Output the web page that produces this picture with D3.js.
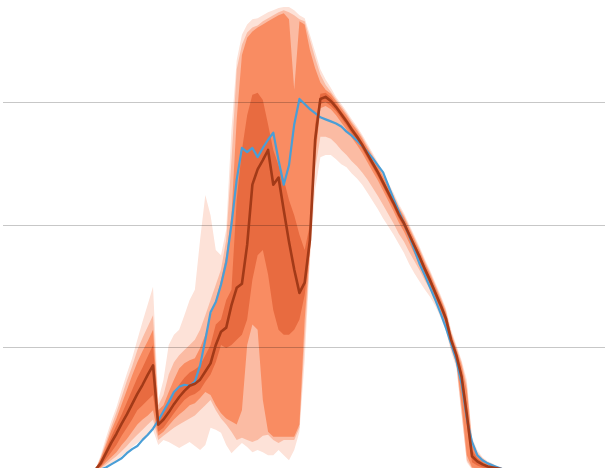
<!DOCTYPE html>
<html>
<head>
<meta charset="utf-8">
<script src="https://cdn.jsdelivr.net/npm/d3@7"></script>
<style>
  html, body { margin: 0; padding: 0; background: #fff; }
  svg { display: block; }
</style>
</head>
<body>
<div id="chart"></div>
<script>
// one point per step, 0..78
var steps = d3.range(0, 79);

var gridValues = [120, 240, 360];

// median forecast (dark line)
var median = [0, 6, 16, 26, 35, 45, 54, 64, 74, 83, 93, 102, 44, 49, 56, 64, 71, 77, 82, 84,
  88, 96, 104, 122, 135, 139, 161, 178, 182, 220, 279, 294, 303, 313, 279, 286, 254, 223, 196, 173,
  183, 225, 323, 363, 365, 361, 355, 348, 341, 333, 326, 318, 309, 300, 291, 281, 271, 261, 250, 241,
  230, 219, 208, 196, 185, 173, 161, 148, 127, 112, 91, 54, 13, 8, 5, 3, 2, 1, 0];

// observed (blue line)
var observed = [0, 0, 2, 5, 8, 11, 16, 20, 23, 29, 34, 40, 48, 57, 66, 76, 81, 83, 82, 86,
  102, 127, 154, 164, 181, 203, 240, 284, 315, 311, 315, 306, 315, 323, 330, 303, 279, 298, 338, 363,
  358, 353, 349, 345, 343, 341, 339, 336, 331, 327, 322, 317, 311, 305, 298, 291, 278, 265, 253, 241,
  229, 215, 201, 190, 178, 166, 153, 139, 123, 107, 84, 50, 27, 14, 9, 6, 4, 2, 0];

// quantile bands
var q05 = [0, 0, 3, 6, 9, 13, 17, 22, 26, 30, 35, 39, 24, 29, 27, 24, 21, 24, 27, 23,
  19, 24, 41, 39, 36, 24, 16, 21, 26, 22, 17, 19, 17, 14, 14, 19, 14, 9, 19, 37,
  107, 205, 274, 306, 308, 308, 304, 299, 296, 290, 285, 279, 271, 263, 255, 246, 238, 230, 221, 212,
  201, 192, 184, 176, 169, 160, 149, 136, 115, 100, 53, 7, 0, 0, 0, 0, 0, 0, 0];
var q95 = [0, 14, 31, 47, 61, 78, 94, 109, 127, 145, 162, 179, 68, 88, 122, 132, 137, 151, 166, 176,
  225, 269, 249, 215, 210, 235, 333, 401, 426, 436, 441, 442, 445, 448, 450, 452, 453, 453, 450, 445,
  442, 426, 409, 392, 382, 374, 365, 358, 351, 343, 336, 328, 319, 310, 301, 291, 281, 271, 260, 251,
  240, 229, 218, 206, 195, 183, 171, 158, 137, 122, 107, 88, 31, 19, 12, 8, 6, 2, 0];
var q10 = [0, 1, 5, 9, 13, 18, 23, 29, 34, 39, 44, 49, 29, 33, 37, 41, 44, 47, 50, 53,
  58, 63, 68, 58, 50, 44, 37, 29, 31, 29, 27, 29, 33, 34, 29, 26, 29, 29, 29, 41,
  127, 210, 294, 326, 326, 324, 319, 313, 308, 302, 297, 291, 284, 276, 268, 259, 250, 241, 231, 223,
  213, 204, 195, 185, 176, 164, 152, 139, 118, 103, 56, 9, 1, 0, 0, 0, 0, 0, 0];
var q90 = [0, 12, 27, 42, 56, 71, 87, 101, 117, 129, 140, 151, 63, 73, 93, 105, 112, 117, 122, 127,
  137, 151, 166, 181, 196, 225, 303, 392, 416, 428, 433, 435, 439, 442, 445, 448, 450, 448, 445, 441,
  439, 421, 403, 387, 377, 370, 363, 356, 349, 341, 334, 326, 317, 308, 299, 289, 279, 269, 258, 249,
  238, 227, 216, 204, 193, 181, 169, 156, 135, 120, 105, 83, 29, 17, 11, 7, 5, 2, 0];
var q25 = [0, 2, 7, 12, 17, 24, 30, 37, 44, 49, 53, 58, 33, 37, 43, 49, 54, 58, 63, 65,
  70, 76, 73, 63, 55, 50, 47, 44, 58, 122, 142, 137, 68, 37, 32, 32, 32, 32, 32, 44,
  147, 215, 303, 354, 356, 353, 347, 340, 333, 325, 318, 310, 301, 292, 283, 273, 263, 253, 242, 233,
  222, 211, 200, 188, 177, 167, 155, 142, 121, 106, 63, 14, 2, 1, 0, 0, 0, 0, 0];
var q75 = [0, 11, 24, 38, 50, 64, 78, 92, 105, 116, 126, 137, 58, 63, 76, 88, 99, 104, 107, 109,
  119, 132, 151, 166, 186, 210, 249, 343, 406, 423, 429, 433, 436, 439, 442, 445, 447, 441, 372, 439,
  436, 411, 393, 379, 372, 368, 361, 354, 347, 339, 332, 324, 315, 306, 297, 287, 277, 267, 256, 247,
  236, 225, 214, 202, 191, 179, 167, 154, 133, 118, 102, 78, 24, 14, 9, 6, 4, 2, 0];
var q40 = [0, 3, 10, 17, 24, 33, 41, 49, 58, 63, 68, 73, 37, 41, 48, 55, 62, 68, 72, 74,
  78, 86, 93, 105, 122, 119, 122, 127, 132, 147, 186, 210, 215, 191, 156, 137, 132, 132, 137, 147,
  171, 215, 313, 358, 360, 356, 351, 344, 337, 329, 322, 314, 305, 296, 287, 277, 267, 257, 246, 237,
  226, 215, 204, 192, 181, 169, 157, 144, 123, 108, 83, 44, 7, 4, 2, 1, 0, 0, 0];
var q60 = [0, 9, 20, 32, 43, 54, 66, 78, 90, 100, 111, 122, 50, 57, 66, 75, 83, 90, 95, 98,
  102, 112, 122, 142, 147, 166, 176, 264, 313, 347, 367, 369, 362, 338, 313, 298, 284, 264, 249, 230,
  215, 240, 338, 368, 369, 365, 358, 351, 344, 336, 329, 321, 312, 303, 294, 284, 274, 264, 253, 244,
  233, 222, 211, 199, 188, 176, 164, 151, 130, 115, 96, 63, 19, 11, 7, 4, 3, 2, 0];

var bands = [
  {lo: q05, hi: q95, color: "#fde2d8"},
  {lo: q10, hi: q90, color: "#fbbba3"},
  {lo: q25, hi: q75, color: "#f98c62"},
  {lo: q40, hi: q60, color: "#e86b40"}
];

var width = 605, height = 468;

var svg = d3.select("#chart")
  .append("svg")
  .attr("width", width)
  .attr("height", height);

var x = d3.scaleLinear()
  .domain([0, 78])
  .range([95.5, 503.4]);

var y = d3.scaleLinear()
  .domain([0, 480])
  .range([469.5, -20.5]);

// fan bands, outer first
bands.forEach(function(b) {
  var area = d3.area()
    .x(function(d) { return x(d); })
    .y0(function(d) { return y(b.lo[d]); })
    .y1(function(d) { return y(b.hi[d]); });
  svg.append("path")
    .datum(steps)
    .attr("d", area)
    .attr("fill", b.color);
});

// grid on top of the fan
var grid = svg.append("g")
  .attr("class", "grid")
  .attr("transform", "translate(" + width + ",0)")
  .call(d3.axisLeft(y).tickValues(gridValues).tickSize(width - 3).tickFormat(""));
grid.select(".domain").remove();
grid.selectAll("line")
  .attr("stroke", "#000")
  .attr("stroke-opacity", 0.22)
  .attr("shape-rendering", "crispEdges");

var line = function(arr) {
  return d3.line()
    .x(function(d) { return x(d); })
    .y(function(d) { return y(arr[d]); });
};

svg.append("path")
  .datum(steps)
  .attr("d", line(observed))
  .attr("fill", "none")
  .attr("stroke", "#4a9ed6")
  .attr("stroke-width", 2.2)
  .attr("stroke-linejoin", "round");

svg.append("path")
  .datum(steps)
  .attr("d", line(median))
  .attr("fill", "none")
  .attr("stroke", "#a23a18")
  .attr("stroke-width", 2.6)
  .attr("stroke-linejoin", "round");
</script>
</body>
</html>
